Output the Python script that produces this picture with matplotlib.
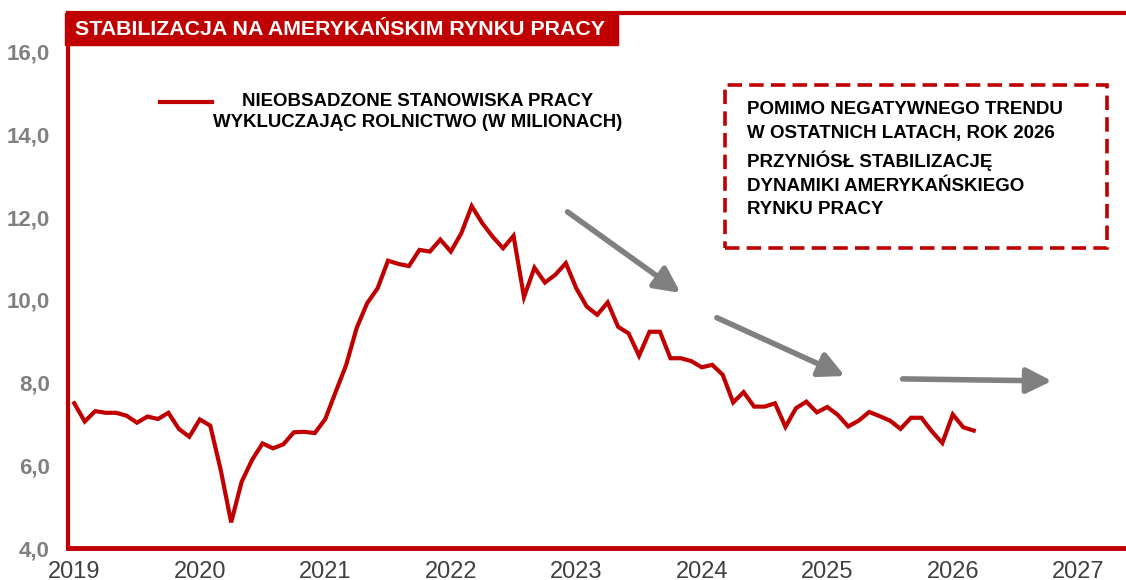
import numpy as np
import matplotlib.pyplot as plt
from matplotlib.patches import Rectangle
from matplotlib.lines import Line2D

# job openings excl. farming, monthly from Jan 2019 (millions)
start_year = 2019
openings = [
    7.50, 7.06, 7.31, 7.27, 7.27, 7.20, 7.03, 7.18, 7.12, 7.27, 6.88, 6.69,        # 2019
    7.11, 6.96, 5.89, 4.62, 5.60, 6.13, 6.53, 6.41, 6.51, 6.80, 6.81, 6.78,        # 2020
    7.12, 7.78, 8.43, 9.32, 9.92, 10.28, 10.95, 10.87, 10.82, 11.21, 11.17, 11.46, # 2021
    11.17, 11.61, 12.27, 11.86, 11.53, 11.25, 11.55, 10.07, 10.78, 10.42, 10.61, 10.89,  # 2022
    10.28, 9.84, 9.64, 9.94, 9.35, 9.19, 8.65, 9.23, 9.23, 8.59, 8.59, 8.52,       # 2023
    8.37, 8.43, 8.19, 7.52, 7.77, 7.42, 7.42, 7.50, 6.93, 7.38, 7.54, 7.28,        # 2024
    7.41, 7.22, 6.94, 7.08, 7.29, 7.19, 7.08, 6.88, 7.15, 7.15, 6.82, 6.54,        # 2025
    7.23, 6.92, 6.84,                                                              # 2026
]
year_ticks = list(range(2019, 2028))
y_ticks = [4, 6, 8, 10, 12, 14, 16]

# trend arrows: (x_start, y_start, x_end, y_end) in chart units
trend_arrows = [
    (2022.93, 12.13, 2023.83, 10.17),
    (2024.12, 9.57, 2025.14, 8.16),
    (2025.60, 8.09, 2026.79, 8.04),
]

title = "STABILIZACJA NA AMERYKAŃSKIM RYNKU PRACY"
series_label = "NIEOBSADZONE STANOWISKA PRACY\nWYKLUCZAJĄC ROLNICTWO (W MILIONACH)"
note = ("POMIMO NEGATYWNEGO TRENDU\nW OSTATNICH LATACH, ROK 2026\n"
        "PRZYNIÓSŁ STABILIZACJĘ\nDYNAMIKI AMERYKAŃSKIEGO\nRYNKU PRACY")

RED = "#C00000"
GREY = "#808080"
W, H = 1126, 580
narrow = ["Liberation Sans Narrow", "Liberation Sans", "DejaVu Sans"]
sans = ["Liberation Sans", "DejaVu Sans"]

def fx(px):
    return px / W

def fy(py):
    return 1 - py / H

fig = plt.figure(figsize=(W / 100, H / 100), dpi=100)
ax = fig.add_axes([fx(68), fy(548), fx(1126) - fx(68), fy(13) - fy(548)])

x = start_year + np.arange(len(openings)) / 12
ax.plot(x, openings, color=RED, linewidth=3, solid_joinstyle="miter")

ax.set_xlim(2018.95, 2027.38)
ax.set_ylim(4, 16.94)
ax.set_xticks(year_ticks)
ax.set_xticklabels([str(y) for y in year_ticks], family=narrow, fontsize=17, color="#404040")
ax.set_yticks(y_ticks)
ax.set_yticklabels([("%.1f" % v).replace(".", ",") for v in y_ticks],
                   family=narrow, fontsize=16, fontweight="bold", color=GREY)
ax.tick_params(axis="x", length=0, pad=9)
ax.tick_params(axis="y", length=0, pad=13)

for side in ["left", "bottom", "top"]:
    ax.spines[side].set_color(RED)
ax.spines["left"].set_linewidth(3)
ax.spines["bottom"].set_linewidth(3.5)
ax.spines["top"].set_linewidth(3)
ax.spines["right"].set_visible(False)

for x0, y0, x1, y1 in trend_arrows:
    ax.annotate("", xy=(x1, y1), xytext=(x0, y0),
                arrowprops=dict(arrowstyle="-|>,head_length=0.9,head_width=0.45",
                                lw=4, color=GREY, shrinkA=0, shrinkB=0,
                                mutation_scale=17, capstyle="round"))

# title bar
fig.add_artist(Rectangle((fx(65), fy(45)), fx(618) - fx(65), fy(13) - fy(45),
                         transform=fig.transFigure, color=RED, zorder=5))
fig.text(fx(75), fy(29.5), title, color="white", fontsize=15.4, fontweight="bold",
         family=sans, va="center", ha="left", zorder=6)

# legend
fig.add_artist(Line2D([fx(160), fx(212)], [fy(101.5), fy(101.5)], color=RED,
                      linewidth=3, transform=fig.transFigure))
fig.text(fx(418), fy(112), series_label, fontsize=13.4, fontweight="bold",
         family=sans, ha="center", va="center", multialignment="center",
         linespacing=1.25)

# note box
fig.add_artist(Rectangle((fx(725), fy(248)), fx(1107) - fx(725), fy(85) - fy(248),
                         transform=fig.transFigure, fill=False, edgecolor=RED,
                         linewidth=2.6, linestyle=(0, (4, 2))))
fig.text(fx(747), fy(101), note, fontsize=13.5, fontweight="bold", family=sans,
         ha="left", va="top", linespacing=1.52)

fig.savefig("out.png", dpi=100)
